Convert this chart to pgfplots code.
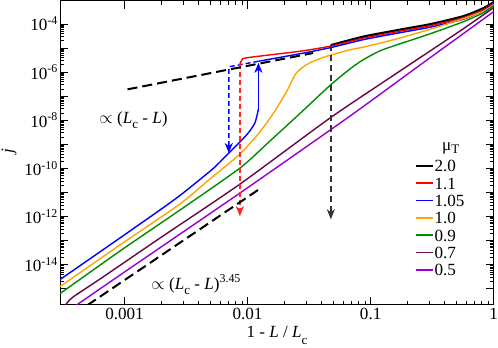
\documentclass[border=0pt]{standalone}
\usepackage{fontspec}
\setmainfont{Liberation Serif}
\usepackage{pgfplots}
\pgfplotsset{compat=1.18}
\usetikzlibrary{arrows.meta}
\definecolor{gorange}{RGB}{255,165,0}
\definecolor{ggreen}{RGB}{0,139,0}
\definecolor{gmaroon}{RGB}{103,7,72}
\definecolor{gviolet}{RGB}{148,0,211}
\newcommand{\sub}[2]{\raisebox{#1}{\fontsize{13}{13}\selectfont #2}}
\begin{document}
\fontsize{17}{20}\selectfont
\begin{tikzpicture}
\begin{axis}[
  width=432pt, height=303pt, scale only axis,
  xmode=log, ymode=log,
  xmin=3e-4, xmax=1, ymin=2.2e-16, ymax=9.4e-4,
  xtick={0.001,0.01,0.1,1}, xticklabels={0.001,0.01,0.1,1},
  ytick={1e-15,1e-14,1e-13,1e-12,1e-11,1e-10,1e-9,1e-8,1e-7,1e-6,1e-5,1e-4},
  yticklabels={,10\textsuperscript{-14},,10\textsuperscript{-12},,10\textsuperscript{-10},,10\textsuperscript{-8},,10\textsuperscript{-6},,10\textsuperscript{-4}},
  axis line style={line width=1pt},
  tick style={black, line width=0.8pt},
  major tick length=8pt, minor tick length=4pt,
  yticklabel style={inner sep=2pt},
  xticklabel style={inner xsep=0pt, inner ysep=3pt},
  every axis x label/.style={at={(axis description cs:0.5,0)}, anchor=base, yshift=-33pt, inner xsep=0pt, inner ysep=1pt, text depth=9pt},
  every axis y label/.style={at={(axis description cs:-0.118,0.505)}, anchor=center, rotate=90, inner sep=1.5pt},
  xlabel={1 - \textit{L} / \textit{L}\sub{-7pt}{c}},
  ylabel={\textit{j}},
  legend style={draw=none, fill=none, at={(0.8106,0.487)}, anchor=north west,
    legend cell align=left, nodes={inner sep=1pt, text height=12pt, text depth=0pt}, row sep=3.3pt},
  legend image post style={line width=1.7pt},
  smooth, tension=0.4,
]
% mu = 2.0
\addplot[black, line width=2.2pt] coordinates {(4.75e-2,1.31e-5) (8.70e-2,2.96e-5) (0.1647,5.52e-5) (0.306,9.81e-5) (0.5684,2.11e-4) (0.8274,4.55e-4) (1,8.1e-4)};
\addlegendentry{2.0}
% mu = 1.1
\addplot[red, line width=1.4pt] coordinates {(8.66e-3,2.22e-6) (8.98e-3,3.10e-6) (9.87e-3,3.94e-6) (2.668e-2,7.36e-6) (4.685e-2,1.189e-5) (8.70e-2,2.56e-5) (0.1647,4.78e-5) (0.306,8.49e-5) (0.5684,1.83e-4) (0.8274,3.94e-4) (1,7.35e-4)};
\addlegendentry{1.1}
% mu = 1.05 upper branch
\addplot[blue, line width=1.4pt] coordinates {(1.225e-2,2.818e-6) (2.668e-2,5.79e-6) (4.685e-2,1.029e-5) (8.70e-2,2.217e-5) (0.1647,4.136e-5) (0.306,7.36e-5) (0.5684,1.585e-4) (0.8274,3.58e-4) (1,7.01e-4)};
\addlegendentry{1.05}
% mu = 1.0
\addplot[gorange, line width=1.4pt] coordinates {(3e-4,1.247e-15) (9.10e-4,6.37e-14) (2.807e-3,3.255e-12) (4.93e-3,3.58e-11) (8.66e-3,3.94e-10) (1.259e-2,3.255e-9) (1.669e-2,2.44e-8) (2.090e-2,1.663e-7) (2.429e-2,7.72e-7) (2.770e-2,1.511e-6) (3.219e-2,2.44e-6) (4.266e-2,4.34e-6) (6.82e-2,8.49e-6) (8.70e-2,1.08e-5) (0.1647,2.44e-5) (0.306,6.07e-5) (0.5684,1.663e-4) (0.8274,3.41e-4) (1,6.37e-4)};
\addlegendentry{1.0}
% mu = 0.9
\addplot[ggreen, line width=1.4pt] coordinates {(3e-4,6.37e-16) (9.10e-4,3.58e-14) (2.807e-3,1.83e-12) (8.66e-3,1.029e-10) (1.520e-2,1.372e-9) (2.668e-2,1.92e-8) (4.685e-2,2.818e-7) (6.82e-2,1.372e-6) (8.70e-2,3.255e-6) (0.1197,7.72e-6) (0.1647,1.372e-5) (0.306,3.94e-5) (0.5684,1.247e-4) (0.8274,2.956e-4) (1,5.79e-4)};
\addlegendentry{0.9}
% mu = 0.7
\addplot[gmaroon, line width=1.4pt] coordinates {(3.243e-4,1.83e-16) (3.77e-4,4.34e-16) (6.25e-4,2.44e-15) (1.929e-3,1.247e-13) (8.66e-3,2.22e-11) (4.685e-2,1.247e-8) (0.1742,1.133e-6) (0.5373,5.26e-5) (1,4.78e-4)};
\addlegendentry{0.7}
% mu = 0.5
\addplot[gviolet, line width=1.4pt] coordinates {(3.913e-4,1.83e-16) (9.10e-4,3.58e-15) (2.807e-3,1.83e-13) (1.044e-2,1.83e-11) (6.82e-2,1.511e-8) (0.2536,2.015e-6) (1,3.255e-4)};
\addlegendentry{0.5}
% mu = 1.05 lower branch
\addplot[blue, line width=1.4pt, forget plot] coordinates {(3e-4,2.44e-15) (9.10e-4,1.247e-13) (1.929e-3,1.83e-12) (2.807e-3,7.36e-12) (4.085e-3,3.41e-11) (5.414e-3,1.133e-10) (7.04e-3,4.34e-10) (9.81e-3,2.44e-9) (1.147e-2,7.72e-9) (1.225e-2,2.96e-8)};
% jump up
\addplot[blue, line width=1.4pt, sharp plot, -{Stealth[length=10pt,width=8pt,inset=3pt]}, forget plot] coordinates {(1.225e-2,2.96e-8) (1.225e-2,2.44e-6)};
% mu = 1.05 metastable upper branch and jump down
\addplot[blue, line width=1.4pt, sharp plot, dash pattern=on 5pt off 3pt, -{Stealth[length=10pt,width=8pt,inset=3pt]}, forget plot] coordinates {(1.225e-2,2.818e-6) (7.04e-3,1.663e-6) (7.04e-3,4.34e-10)};
% mu = 1.1 jump down
\addplot[red!85, line width=1.4pt, sharp plot, dash pattern=on 5pt off 3pt, -{Stealth[length=10pt,width=8pt,inset=3pt]}, forget plot] coordinates {(8.66e-3,2.22e-6) (8.66e-3,1.029e-12)};
% mu = 2.0 jump down
\addplot[black!80, line width=1.4pt, sharp plot, dash pattern=on 6pt off 4pt, -{Stealth[length=10pt,width=8pt,inset=3pt]}, forget plot] coordinates {(4.75e-2,1.31e-5) (4.75e-2,7.72e-13)};
% guide lines
\addplot[black, line width=2pt, sharp plot, dash pattern=on 10pt off 5pt, forget plot] coordinates {(1.058e-3,1.92e-7) (0.034,6.17e-6)};
\addplot[black, line width=2pt, sharp plot, dash pattern=on 10pt off 5pt, forget plot] coordinates {(5e-4,2.09e-16) (1.259e-2,1.43e-11)};
\node at (axis cs:1.184e-3,1.029e-8) {$\propto$ (\textit{L}\sub{-5pt}{c} - \textit{L})};
\node at (axis cs:3.826e-3,1.51e-15) {$\propto$ (\textit{L}\sub{-5pt}{c} - \textit{L})\textsuperscript{3.45}};
\node at (axis description cs:0.901,0.515) {μ\sub{-3pt}{T}};
\end{axis}
\end{tikzpicture}
\end{document}
